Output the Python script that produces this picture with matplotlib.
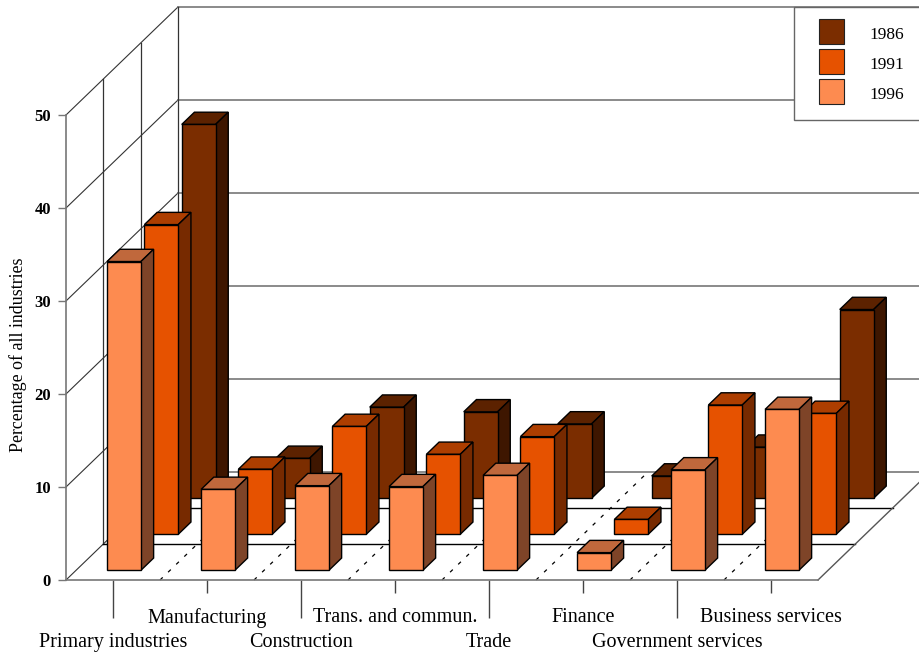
import matplotlib
matplotlib.use("Agg")
import matplotlib.pyplot as plt
from matplotlib.patches import Polygon
from matplotlib.lines import Line2D

plt.rcParams['font.family'] = ['Liberation Serif', 'DejaVu Serif']

industries = ["Primary industries", "Manufacturing", "Construction",
              "Trans. and commun.", "Trade", "Finance",
              "Government services", "Business services"]
years = ["1986", "1991", "1996"]
pct_1986 = [40.2, 4.3, 9.8, 9.3, 8.0, 2.4, 5.5, 20.3]
pct_1991 = [33.3, 7.0, 11.6, 8.6, 10.5, 1.6, 13.9, 13.0]
pct_1996 = [33.2, 8.7, 9.1, 9.0, 10.2, 1.9, 10.8, 17.3]
y_ticks = [0, 10, 20, 30, 40, 50]

# front / top / side shades per year
colors = {
    "1986": ("#7b2d00", "#5c2200", "#3e1600"),
    "1991": ("#e65200", "#ad3e00", "#772a00"),
    "1996": ("#fd8b50", "#c0683c", "#7e4428"),
}

# fake 3d: one row of depth moves things this far (data units)
DX, DY = 0.397, 3.87
NROWS = 3


def proj(x, v, d):
    return (x + d * DX, v + d * DY)


fig = plt.figure(figsize=(9.19, 6.53), dpi=100)
ax = fig.add_axes([0, 0, 1, 1])
ax.set_xlim(-66 / 94, 853 / 94)
ax.set_ylim(-73 / 9.3, 580 / 9.3)

ncat = len(industries)
wall_end = ncat + 3

# side wall + back wall grid
for v in y_ticks:
    xb, yb = proj(0, v, NROWS)
    ax.plot([0, xb], [v, yb], color='#333333', lw=0.8, zorder=1)
    ax.plot([xb, wall_end], [yb, yb], color='#777777', lw=1.2, zorder=1)
for d in range(1, NROWS + 1):
    xa, ya = proj(0, 0, d)
    xb, yb = proj(0, y_ticks[-1], d)
    ax.plot([xa, xb], [ya, yb], color='#333333', lw=0.9, zorder=1)
    if d < NROWS:
        xc, yc = proj(ncat, 0, d)
        ax.plot([xa, xc], [ya, yc], color='black', lw=1, zorder=1)

# floor right edge and dashed category dividers
xa, ya = proj(ncat, 0, 0)
xb, yb = proj(ncat, 0, NROWS)
ax.plot([xa, xb], [ya, yb], color='#555555', lw=1, zorder=1)
for k in range(1, ncat):
    xa, ya = proj(k, 0, 0)
    xb, yb = proj(k, 0, NROWS)
    ax.plot([xa, xb], [ya, yb], color='black', lw=0.9, ls=(0, (3, 6)), zorder=1)

# bars, back row first
series = [("1986", pct_1986, 2), ("1991", pct_1991, 1), ("1996", pct_1996, 0)]
for year, vals, row in series:
    c_front, c_top, c_side = colors[year]
    df = row + 0.27
    db = df + 0.34
    for i, v in enumerate(vals):
        xl = i + 0.33
        xr = xl + 0.36
        faces = [
            ([proj(xl, v, df), proj(xr, v, df), proj(xr, v, db), proj(xl, v, db)], c_top),
            ([proj(xr, 0, df), proj(xr, 0, db), proj(xr, v, db), proj(xr, v, df)], c_side),
            ([proj(xl, 0, df), proj(xr, 0, df), proj(xr, v, df), proj(xl, v, df)], c_front),
        ]
        for pts, c in faces:
            ax.add_patch(Polygon(pts, closed=True, fc=c, ec='black', lw=1, zorder=3))

# axes
ax.spines['top'].set_visible(False)
ax.spines['right'].set_visible(False)
ax.spines['left'].set_position(('data', 0))
ax.spines['left'].set_bounds(0, y_ticks[-1])
ax.spines['bottom'].set_position(('data', 0))
ax.spines['bottom'].set_bounds(0, ncat)
for s in ['left', 'bottom']:
    ax.spines[s].set_color('#777777')
    ax.spines[s].set_linewidth(1.2)

ax.set_yticks(y_ticks)
ax.tick_params(axis='y', direction='out', length=5.8, width=1, color='#777777',
               labelsize=12, pad=5)
for lbl in ax.get_yticklabels():
    lbl.set_fontweight('bold')

major = [i + 0.5 for i in range(0, ncat, 2)]
minor = [i + 0.5 for i in range(1, ncat, 2)]
ax.set_xticks(major, labels=industries[0::2])
ax.set_xticks(minor, labels=industries[1::2], minor=True)
ax.tick_params(axis='x', which='major', direction='out', length=27.4, width=1,
               color='#444444', labelsize=14.5, pad=11)
ax.tick_params(axis='x', which='minor', direction='out', length=9.4, width=1,
               color='#444444', labelsize=14.5, pad=11)

ax.set_ylabel('Percentage of all industries', fontsize=12.9, va='center')
ax.yaxis.set_label_coords(18 / 919, 1 - 355 / 653)

handles = [Line2D([], [], ls='none', marker='s', ms=18, mfc=colors[y][0],
                  mec='#222222', mew=0.8) for y in years]
leg = ax.legend(handles, years, loc='upper left',
                bbox_to_anchor=(794 / 919, 1 - 7 / 653, 0.2, 0), mode='expand',
                borderaxespad=0, fontsize=12.5, borderpad=0.9, handlelength=2.5,
                handleheight=1.46, handletextpad=0.95, labelspacing=0.55,
                fancybox=False, framealpha=1, edgecolor='#666666')
leg.get_frame().set_linewidth(1)

fig.savefig('out.png', dpi=100)
